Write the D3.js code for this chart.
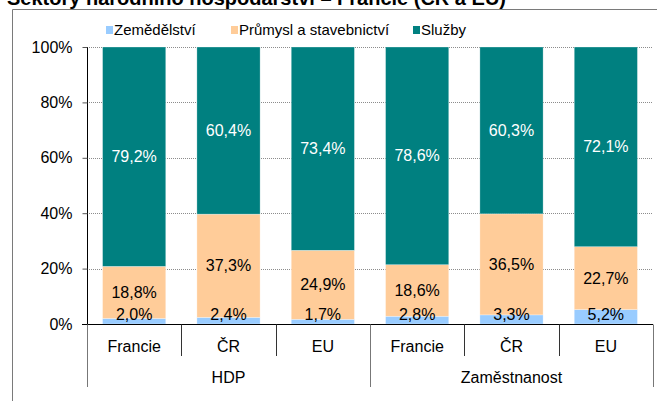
<!DOCTYPE html>
<html>
<head>
<meta charset="utf-8">
<script src="https://cdn.jsdelivr.net/npm/d3@7"></script>
<style>
  body { margin: 0; background: #fff; }
  svg { display: block; font-family: 'Liberation Sans', Arial, sans-serif; }
</style>
</head>
<body>
<div id="chart"></div>
<script>
// -- DATA --

groups = ['HDP', 'Zaměstnanost']
categories = ['Francie', 'ČR', 'EU']
seriesNames = ['Zemědělství', 'Průmysl a stavebnictví', 'Služby']
seriesColors = ['#99ccff', '#ffcc99', '#008080']

zemedelstvi = [2.0, 2.4, 1.7, 2.8, 3.3, 5.2]
prumysl = [18.8, 37.3, 24.9, 18.6, 36.5, 22.7]
sluzby = [79.2, 60.4, 73.4, 78.6, 60.3, 72.1]

yTicks = [0, 0.2, 0.4, 0.6, 0.8, 1]

// -- GLOBAL --

width = 657
height = 401
margin = {left: 87, right: 4, top: 47, bottom: 77}

var svg = d3.select('#chart').append('svg')
  .attr('width', width)
  .attr('height', height)

var rows = []
groups.forEach((g, gi) => categories.forEach((c, ci) => {
  var i = gi * categories.length + ci
  rows.push({
    key: g + '|' + c, group: g, cat: c,
    'Zemědělství': zemedelstvi[i],
    'Průmysl a stavebnictví': prumysl[i],
    'Služby': sluzby[i]
  })
}))

var czFormat = d3.formatLocale({decimal: ',', thousands: ' ', grouping: [3], currency: ['', ' Kč']})
var fmtVal = czFormat.format('.1f')

// -- FUNCTIONS --

function plotFrame() {
  // outer chart frame, mostly cut off on top / right
  svg.append('path')
    .attr('d', 'M12.5,' + height + 'V9.5H' + width)
    .style('fill', 'none')
    .style('stroke', '#7a7a7a')
    .style('stroke-width', '1px')

  svg.append('text')
    .attr('x', 7)
    .attr('y', 5)
    .style('font-weight', '700')
    .style('font-size', '20px')
    .style('fill', 'black')
    .text('Sektory národního hospodářství – Francie (ČR a EU)')
}

function plotLegend() {
  var items = [
    {name: seriesNames[0], x: 106},
    {name: seriesNames[1], x: 231},
    {name: seriesNames[2], x: 413}
  ]
  var gLegend = svg.append('g')
  var gItem = gLegend.selectAll('g')
    .data(items)
    .enter().append('g')
      .attr('transform', d => 'translate(' + d.x + ',0)')

  gItem.append('rect')
    .attr('x', 0)
    .attr('y', 26)
    .attr('width', 7)
    .attr('height', 8)
    .style('fill', (d, i) => seriesColors[i])

  gItem.append('text')
    .attr('x', 8)
    .attr('y', 35)
    .style('font-size', '15px')
    .style('fill', 'black')
    .text(d => d.name)
}

function plotBars() {
  var xMap = d3.scaleBand()
    .domain(rows.map(d => d.key))
    .range([margin.left, width - margin.right])
    .paddingInner(0.33)
    .paddingOuter(0.165)

  var yMap = d3.scaleLinear()
    .domain([0, 1])
    .range([height - margin.bottom, margin.top])

  // gridlines
  svg.append('g').selectAll('line')
    .data(yTicks.filter(d => d > 0))
    .enter().append('line')
      .attr('x1', margin.left)
      .attr('x2', width - margin.right)
      .attr('y1', d => Math.round(yMap(d)) + 0.5)
      .attr('y2', d => Math.round(yMap(d)) + 0.5)
      .style('stroke', '#8c8c8c')
      .style('stroke-width', '1px')
      .style('stroke-dasharray', '1,1')

  var stack = d3.stack()
    .keys(seriesNames)
    .offset(d3.stackOffsetExpand)
  var layers = stack(rows)

  var gLayer = svg.append('g').selectAll('g')
    .data(layers)
    .enter().append('g')
      .style('fill', (d, i) => seriesColors[i])

  gLayer.selectAll('rect')
    .data(d => d)
    .enter().append('rect')
      .attr('x', d => xMap(d.data.key))
      .attr('y', d => yMap(d[1]))
      .attr('width', xMap.bandwidth())
      .attr('height', d => yMap(d[0]) - yMap(d[1]))
      .style('stroke', '#ffffff')
      .style('stroke-opacity', 0.5)
      .style('stroke-width', '0.6px')

  // value labels
  layers.forEach((layer, li) => {
    svg.append('g').selectAll('text')
      .data(layer)
      .enter().append('text')
        .attr('x', d => xMap(d.data.key) + xMap.bandwidth() / 2)
        .attr('y', d => li == 0 ? yMap(0) - 4 : (yMap(d[0]) + yMap(d[1])) / 2)
        .attr('dy', li == 0 ? null : '0.35em')
        .style('text-anchor', 'middle')
        .style('font-size', '16px')
        .style('fill', li == 2 ? 'white' : 'black')
        .text(d => fmtVal(d.data[layer.key]) + '%')
  })

  // y axis
  var yAxis = d3.axisLeft(yMap)
    .tickValues(yTicks)
    .tickSize(5)
    .tickPadding(10)
    .tickFormat(d3.format('.0%'))

  var gYAxis = svg.append('g')
    .attr('transform', 'translate(' + (margin.left + 0.5) + ',0)')
    .call(yAxis)
  gYAxis.select('.domain')
    .attr('d', 'M0,' + yMap(1) + 'V' + yMap(0))
    .style('stroke', 'black')
  gYAxis.selectAll('.tick line').style('stroke', '#555')
  gYAxis.selectAll('text')
    .style('font-family', "'Liberation Sans', Arial, sans-serif")
    .style('font-size', '16px')
    .style('fill', 'black')

  // category axis (multi-level)
  var gX = svg.append('g')
  var y0 = Math.round(yMap(0)) + 0.5
  var step = xMap.step()
  var x0 = xMap.range()[0]

  gX.append('line')
    .attr('x1', x0 - 5)
    .attr('x2', xMap.range()[1])
    .attr('y1', y0)
    .attr('y2', y0)
    .style('stroke', 'black')

  var seps = d3.range(rows.length + 1)
  gX.selectAll('line.sep')
    .data(seps)
    .enter().append('line')
      .attr('class', 'sep')
      .attr('x1', i => Math.round(x0 + i * step) + 0.5)
      .attr('x2', i => Math.round(x0 + i * step) + 0.5)
      .attr('y1', y0)
      .attr('y2', i => i % categories.length == 0 ? 387 : 356)
      .style('stroke', i => i % categories.length == 0 ? '#777' : '#333')

  gX.selectAll('text.cat')
    .data(rows)
    .enter().append('text')
      .attr('class', 'cat')
      .attr('x', d => xMap(d.key) + xMap.bandwidth() / 2)
      .attr('y', 351.5)
      .style('text-anchor', 'middle')
      .style('font-size', '16px')
      .style('fill', 'black')
      .text(d => d.cat)

  gX.selectAll('text.grp')
    .data(groups)
    .enter().append('text')
      .attr('class', 'grp')
      .attr('x', (g, gi) => x0 + (gi + 0.5) * categories.length * step)
      .attr('y', 382.5)
      .style('text-anchor', 'middle')
      .style('font-size', '16px')
      .style('fill', 'black')
      .text(g => g)
}

// -- MAIN --
plotFrame()
plotLegend()
plotBars()
</script>
</body>
</html>
